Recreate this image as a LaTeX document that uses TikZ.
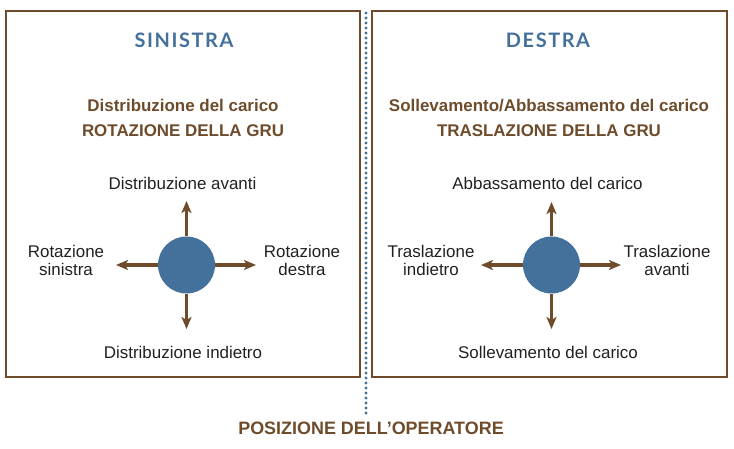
\documentclass[tikz,border=0pt]{standalone}
\usepackage{fontspec}
\setmainfont{Liberation Sans}
\newfontfamily\titlefont[LetterSpace=8]{Lato}
\usetikzlibrary{arrows.meta}
\definecolor{brownline}{HTML}{6E4C2B}
\definecolor{bluedot}{HTML}{44709C}
\definecolor{inkgrey}{HTML}{231F20}
\tikzset{
    panel/.style = {draw = brownline, line width = 2.4bp},
    heading/.style = {font = \titlefont\bfseries\fontsize{20}{20}\selectfont, text = bluedot},
    caption/.style = {font = \bfseries\fontsize{17}{25}\selectfont, text = brownline, align = center},
    dirtext/.style = {font = \fontsize{17}{18}\selectfont, text = inkgrey, align = center},
    hub/.style = {circle, fill = bluedot, minimum size = 57bp, inner sep = 0pt},
    move/.style = {draw = brownline, line width = 3.6bp, -{Stealth[length = 12bp, width = 10bp, inset = 3bp]}},
}
\begin{document}
\begin{tikzpicture}[x = 1bp, y = -1bp]
    \useasboundingbox (0, 0) rectangle (734, 449);

    \draw[panel] (6, 11) rectangle (360, 377);
    \draw[panel] (372, 11) rectangle (727, 377);

    \coordinate (divtop) at (366, 13);
    \coordinate (divend) at (366, 414);
    \draw[bluedot, line width = 3.2bp, line cap = round, dash pattern = on 0pt off 5bp] (divtop) -- (divend);

    % sinistra
    \node[heading] (sx) at (184, 40) {SINISTRA};
    \node[caption] (sxcap) at (183, 117.5) {Distribuzione del carico\\ROTAZIONE DELLA GRU};
    \node[hub] (sxhub) at (186.5, 265) {};
    \coordinate (sxup) at (186.5, 201);
    \coordinate (sxdown) at (186.5, 329);
    \coordinate (sxleft) at (116, 265);
    \coordinate (sxright) at (256, 265);
    \draw[move] (sxhub) -- (sxup);
    \draw[move] (sxhub) -- (sxdown);
    \draw[move] (sxhub) -- (sxleft);
    \draw[move] (sxhub) -- (sxright);
    \node[dirtext] (sxfwd) at (182.5, 183) {Distribuzione avanti};
    \node[dirtext] (sxback) at (183, 352) {Distribuzione indietro};
    \node[dirtext] (sxrotl) at (66, 260) {Rotazione\\sinistra};
    \node[dirtext] (sxrotr) at (302, 260) {Rotazione\\destra};

    % destra
    \node[heading] (dx) at (548, 40) {DESTRA};
    \node[caption] (dxcap) at (549, 117.5) {Sollevamento/Abbassamento del carico\\TRASLAZIONE DELLA GRU};
    \node[hub] (dxhub) at (551.5, 265) {};
    \coordinate (dxup) at (551.5, 202);
    \coordinate (dxdown) at (551.5, 329);
    \coordinate (dxleft) at (481, 265);
    \coordinate (dxright) at (621, 265);
    \draw[move] (dxhub) -- (dxup);
    \draw[move] (dxhub) -- (dxdown);
    \draw[move] (dxhub) -- (dxleft);
    \draw[move] (dxhub) -- (dxright);
    \node[dirtext] (dxdrop) at (547.5, 183) {Abbassamento del carico};
    \node[dirtext] (dxlift) at (548, 352) {Sollevamento del carico};
    \node[dirtext] (dxtrb) at (431, 260) {Traslazione\\indietro};
    \node[dirtext] (dxtrf) at (667, 260) {Traslazione\\avanti};

    \node[caption, font = \bfseries\fontsize{18}{20}\selectfont] (op) at (371, 428) {POSIZIONE DELL'OPERATORE};
\end{tikzpicture}
\end{document}
